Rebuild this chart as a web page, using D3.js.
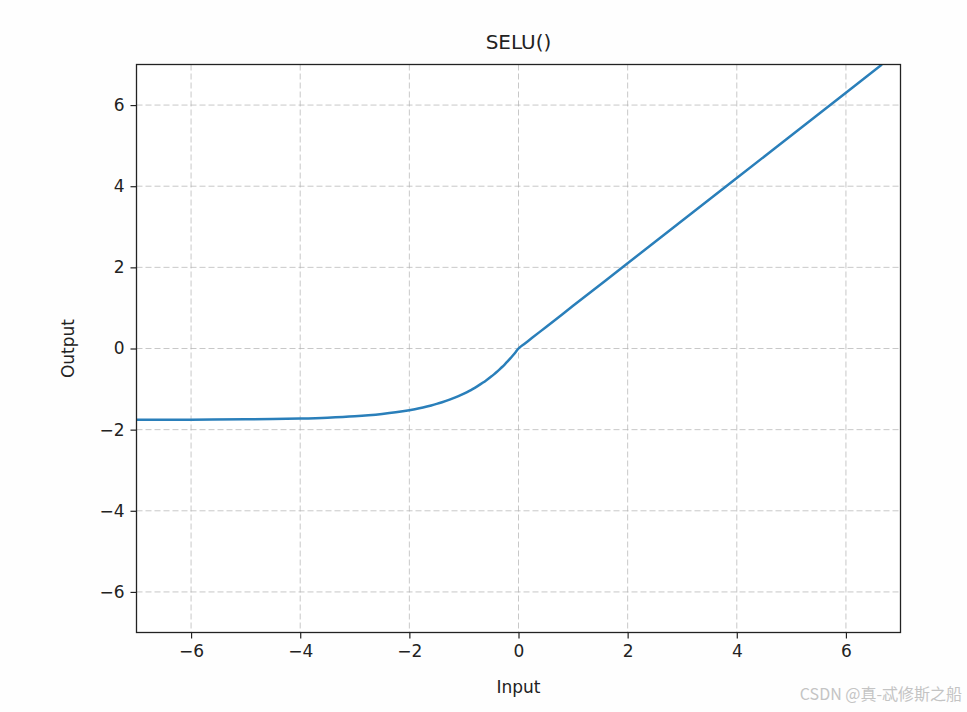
<!DOCTYPE html>
<html><head><meta charset="utf-8">
<script src="https://cdn.jsdelivr.net/npm/d3@7"></script>
<style>body{margin:0;background:#fefefe}svg{display:block}</style>
</head><body>
<script>
const xTicks = [-6, -4, -2, 0, 2, 4, 6];
const yTicks = [-6, -4, -2, 0, 2, 4, 6];
const xInput = [-7, -6, -5, -4.5, -4, -3.5, -3, -2.75, -2.5, -2.25, -2, -1.9, -1.75, -1.6, -1.5, -1.4, -1.25, -1.1, -1, -0.9, -0.85, -0.75, -0.65, -0.6, -0.5, -0.45, -0.4, -0.35, -0.3, -0.25, -0.2, -0.15, -0.1, -0.05, 0, 0.1, 0.25, 0.5, 1, 2, 4, 6, 6.66];
const yOutput = [-1.757, -1.754, -1.746, -1.739, -1.726, -1.705, -1.671, -1.646, -1.614, -1.573, -1.520, -1.495, -1.453, -1.403, -1.366, -1.325, -1.254, -1.173, -1.111, -1.043, -1.007, -0.928, -0.840, -0.793, -0.692, -0.637, -0.580, -0.519, -0.456, -0.389, -0.319, -0.245, -0.167, -0.086, 0, 0.105, 0.263, 0.525, 1.051, 2.101, 4.203, 6.304, 7.0];

const W = 967, H = 712;
const L = 136.5, R = 900.5, T = 64.5, B = 632.5;
const svg = d3.select("body").append("svg").attr("width", W).attr("height", H);
svg.append("rect").attr("width", W).attr("height", H).attr("fill", "#fefefe");

const x = d3.scaleLinear().domain([-7, 7]).range([L, R]);
const y = d3.scaleLinear().domain([-7, 7]).range([B, T]);
const font = "DejaVu Sans, sans-serif";

svg.append("rect").attr("x", L).attr("y", T).attr("width", R - L).attr("height", B - T).attr("fill", "#ffffff");

// grid
const g = svg.append("g");
g.selectAll("line.vx").data(xTicks).enter().append("line")
  .attr("x1", d => x(d)).attr("x2", d => x(d)).attr("y1", T).attr("y2", B)
  .attr("stroke", "#b0b0b0").attr("stroke-opacity", 0.7).attr("stroke-width", 1).attr("stroke-dasharray", "6,3");
g.selectAll("line.hy").data(yTicks).enter().append("line")
  .attr("y1", d => y(d)).attr("y2", d => y(d)).attr("x1", L).attr("x2", R)
  .attr("stroke", "#b0b0b0").attr("stroke-opacity", 0.7).attr("stroke-width", 1).attr("stroke-dasharray", "6,3");

// line
svg.append("defs").append("clipPath").attr("id", "clip").append("rect")
  .attr("x", L).attr("y", T).attr("width", R - L).attr("height", B - T);
const pts = xInput.map((v, i) => [v, yOutput[i]]);
svg.append("path").datum(pts).attr("clip-path", "url(#clip)")
  .attr("d", d3.line().x(d => x(d[0])).y(d => y(d[1])).curve(d3.curveMonotoneX))
  .attr("fill", "none").attr("stroke", "#2a7fba").attr("stroke-width", 2.5);

// axes
const fmt = d => d < 0 ? "\u2212" + Math.abs(d) : String(d);
const xa = svg.append("g").attr("transform", `translate(0,${B})`)
  .call(d3.axisBottom(x).tickValues(xTicks).tickFormat(fmt).tickSize(6).tickPadding(6));
const ya = svg.append("g").attr("transform", `translate(${L},0)`)
  .call(d3.axisLeft(y).tickValues(yTicks).tickFormat(fmt).tickSize(6).tickPadding(6));
[xa, ya].forEach(a => {
  a.select(".domain").remove();
  a.selectAll("line").attr("stroke", "#222").attr("stroke-width", 1.2);
  a.selectAll("text").attr("font-family", font).attr("font-size", 17).attr("fill", "#222");
});
svg.append("rect").attr("x", L).attr("y", T).attr("width", R - L).attr("height", B - T)
  .attr("fill", "none").attr("stroke", "#222").attr("stroke-width", 1.3);

svg.append("text").attr("x", (L + R) / 2).attr("y", 49).attr("text-anchor", "middle")
  .attr("font-family", font).attr("font-size", 20).attr("fill", "#222").text("SELU()");
svg.append("text").attr("x", (L + R) / 2).attr("y", 693).attr("text-anchor", "middle")
  .attr("font-family", font).attr("font-size", 17).attr("fill", "#222").text("Input");
svg.append("text").attr("transform", `translate(74,${(T + B) / 2}) rotate(-90)`).attr("text-anchor", "middle")
  .attr("font-family", font).attr("font-size", 17).attr("fill", "#222").text("Output");

svg.append("text").attr("x", 962).attr("y", 700).attr("text-anchor", "end")
  .attr("font-family", "Noto Sans CJK SC, sans-serif").attr("font-size", 16).attr("fill", "#c4c4c4").text("CSDN @真-忒修斯之船");
</script>
</body></html>
